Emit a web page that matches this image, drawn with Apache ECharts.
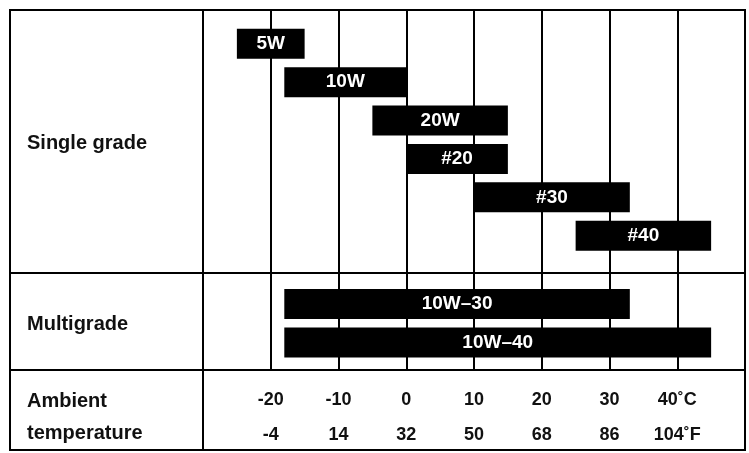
<!DOCTYPE html>
<html><head><meta charset="utf-8">
<script src="https://cdn.jsdelivr.net/npm/echarts@6/dist/echarts.min.js"></script>
<style>html,body{margin:0;padding:0;background:#fff}#c{width:749px;height:453px}</style>
</head><body><div id="c"></div>
<script>
const grades = ['5W','10W','20W','#20','#30','#40','10W–30','10W–40'];
const section = ['single','single','single','single','single','single','multi','multi'];
const startC = [-25,-18,-5,0,10,25,-18,-18];
const endC = [-15,0,15,15,33,45,33,45];
const celsiusTicks = [-20,-10,0,10,20,30,40];
const fahrenheitTicks = ['-4','14','32','50','68','86','104'];

const FONT = '"Liberation Sans", Arial, sans-serif';
// row position: sequential index plus an extra gap before the multigrade section
const rows = grades.map((g,i)=> i + (section[i]==='multi' ? 0.78 : 0));
const data = grades.map((g,i)=>[startC[i], endC[i], rows[i], g]);

const chart = echarts.init(document.getElementById('c'));
chart.setOption({
  animation:false,
  grid:{left:203,right:4,top:10,bottom:83},
  xAxis:{type:'value',min:-30,max:50,interval:10,
    axisLine:{show:false},axisTick:{show:false},
    splitLine:{show:true,lineStyle:{color:'#000',width:2}},
    axisLabel:{margin:14,fontFamily:FONT,fontWeight:'bold',fontSize:18,color:'#111',lineHeight:35,
      formatter:v=>{const i=celsiusTicks.indexOf(v); if(i<0) return '';
        const last=i===celsiusTicks.length-1;
        return v+(last?'˚C':'')+'\n'+fahrenheitTicks[i]+(last?'˚F':'');}}},
  yAxis:{type:'value',inverse:true,min:-0.88,max:8.47,show:false},
  series:[{type:'custom',data:data,
    renderItem:(p,api)=>{
      const a=api.coord([api.value(0),api.value(2)]);
      const b=api.coord([api.value(1),api.value(2)]);
      const h=30;
      return {type:'group',children:[
        {type:'rect',shape:{x:a[0],y:a[1]-h/2,width:b[0]-a[0],height:h},style:{fill:'#000'}},
        {type:'text',style:{text:grades[p.dataIndex],x:(a[0]+b[0])/2,y:a[1],align:'center',verticalAlign:'middle',
          fill:'#fff',font:'bold 19px '+FONT}}
      ]};
    }}],
  graphic:[
    {type:'rect',shape:{x:10,y:10,width:735,height:440},style:{fill:null,stroke:'#000',lineWidth:2}},
    {type:'line',shape:{x1:203,y1:10,x2:203,y2:450},style:{stroke:'#000',lineWidth:2}},
    {type:'line',shape:{x1:10,y1:273,x2:745,y2:273},style:{stroke:'#000',lineWidth:2}},
    {type:'line',shape:{x1:10,y1:370,x2:745,y2:370},style:{stroke:'#000',lineWidth:2}},
    {type:'text',left:27,top:133,style:{text:'Single grade',font:'bold 20px '+FONT,fill:'#111'}},
    {type:'text',left:27,top:314,style:{text:'Multigrade',font:'bold 20px '+FONT,fill:'#111'}},
    {type:'text',left:27,top:385,style:{text:'Ambient\ntemperature',font:'bold 20px '+FONT,fill:'#111',lineHeight:32}}
  ]
});
</script></body></html>
